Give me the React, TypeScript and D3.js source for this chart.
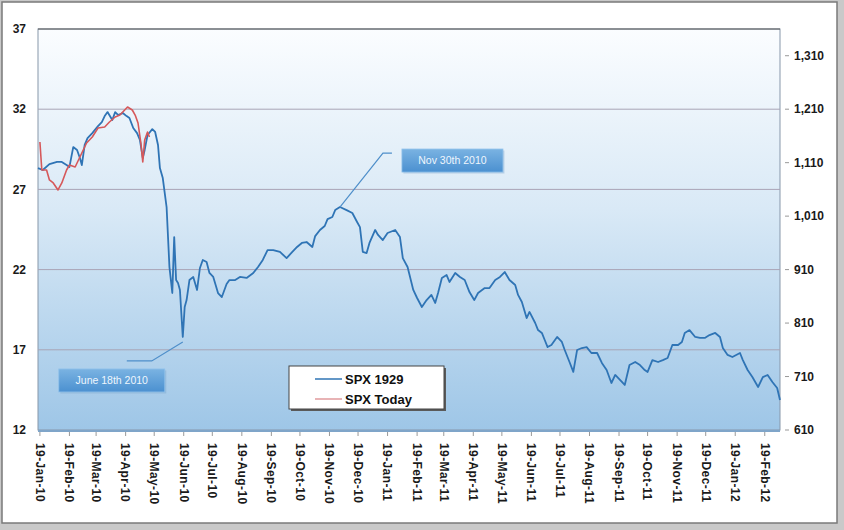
import React, { useRef, useEffect } from "react";
import * as d3 from "d3";

const WIDTH = 844;
const HEIGHT = 530;

// SPX 1929 (left axis), shifted onto 2010-2012 calendar
const spx1929: [string, number][] = [
  ["2010-01-17", 28.33], ["2010-01-22", 28.21], ["2010-01-29", 28.58], ["2010-02-06", 28.71],
  ["2010-02-11", 28.71], ["2010-02-16", 28.52], ["2010-02-19", 28.4], ["2010-02-23", 29.64],
  ["2010-02-27", 29.46], ["2010-03-02", 28.96], ["2010-03-04", 28.52], ["2010-03-07", 29.77],
  ["2010-03-10", 30.2], ["2010-03-15", 30.51], ["2010-03-21", 30.95], ["2010-03-25", 31.2],
  ["2010-03-28", 31.57], ["2010-03-31", 31.82], ["2010-04-05", 31.33], ["2010-04-08", 31.82],
  ["2010-04-11", 31.64], ["2010-04-16", 31.76], ["2010-04-20", 31.57], ["2010-04-23", 31.45],
  ["2010-04-27", 30.83], ["2010-05-01", 30.51], ["2010-05-04", 30.08], ["2010-05-07", 28.96],
  ["2010-05-09", 29.46], ["2010-05-12", 30.39], ["2010-05-17", 30.76], ["2010-05-20", 30.58],
  ["2010-05-23", 29.77], ["2010-05-25", 28.33], ["2010-05-28", 27.71], ["2010-06-01", 25.9],
  ["2010-06-04", 22.16], ["2010-06-07", 20.54], ["2010-06-09", 24.03], ["2010-06-11", 21.35],
  ["2010-06-13", 21.16], ["2010-06-15", 20.73], ["2010-06-18", 17.8], ["2010-06-20", 19.67],
  ["2010-06-22", 20.1], ["2010-06-25", 21.35], ["2010-06-29", 21.54], ["2010-07-03", 20.73],
  ["2010-07-06", 22.1], ["2010-07-09", 22.6], ["2010-07-13", 22.47], ["2010-07-16", 21.79],
  ["2010-07-20", 21.54], ["2010-07-25", 20.54], ["2010-07-29", 20.29], ["2010-08-03", 21.1],
  ["2010-08-06", 21.35], ["2010-08-12", 21.35], ["2010-08-17", 21.54], ["2010-08-24", 21.48],
  ["2010-08-31", 21.79], ["2010-09-05", 22.16], ["2010-09-10", 22.6], ["2010-09-15", 23.22],
  ["2010-09-21", 23.22], ["2010-09-28", 23.1], ["2010-10-05", 22.72], ["2010-10-11", 23.1],
  ["2010-10-16", 23.41], ["2010-10-21", 23.66], ["2010-10-26", 23.72], ["2010-11-01", 23.41],
  ["2010-11-04", 24.09], ["2010-11-09", 24.47], ["2010-11-14", 24.72], ["2010-11-17", 25.15],
  ["2010-11-22", 25.28], ["2010-11-25", 25.71], ["2010-11-30", 25.9], ["2010-12-07", 25.71],
  ["2010-12-13", 25.53], ["2010-12-18", 24.97], ["2010-12-21", 24.65], ["2010-12-24", 23.1],
  ["2010-12-28", 23.03], ["2010-12-31", 23.66], ["2011-01-06", 24.47], ["2011-01-09", 24.16],
  ["2011-01-14", 23.84], ["2011-01-19", 24.28], ["2011-01-27", 24.47], ["2011-02-01", 24.03],
  ["2011-02-04", 22.72], ["2011-02-09", 22.16], ["2011-02-15", 20.73], ["2011-02-19", 20.23],
  ["2011-02-24", 19.67], ["2011-03-01", 20.1], ["2011-03-06", 20.42], ["2011-03-10", 19.92],
  ["2011-03-13", 20.54], ["2011-03-17", 21.48], ["2011-03-22", 21.66], ["2011-03-25", 21.23],
  ["2011-03-31", 21.79], ["2011-04-05", 21.54], ["2011-04-10", 21.35], ["2011-04-15", 20.6],
  ["2011-04-20", 20.1], ["2011-04-24", 20.54], ["2011-05-01", 20.85], ["2011-05-06", 20.85],
  ["2011-05-12", 21.35], ["2011-05-17", 21.54], ["2011-05-22", 21.85], ["2011-05-27", 21.35],
  ["2011-06-02", 21.04], ["2011-06-05", 20.42], ["2011-06-09", 19.98], ["2011-06-14", 18.98],
  ["2011-06-17", 19.36], ["2011-06-23", 18.67], ["2011-06-26", 18.23], ["2011-06-30", 18.05],
  ["2011-07-03", 17.61], ["2011-07-06", 17.17], ["2011-07-10", 17.3], ["2011-07-16", 17.8],
  ["2011-07-21", 17.49], ["2011-07-24", 16.99], ["2011-07-29", 16.24], ["2011-08-02", 15.62],
  ["2011-08-06", 16.99], ["2011-08-11", 17.11], ["2011-08-16", 17.17], ["2011-08-21", 16.8],
  ["2011-08-27", 16.8], ["2011-09-01", 16.18], ["2011-09-06", 15.74], ["2011-09-11", 14.93],
  ["2011-09-15", 15.43], ["2011-09-20", 15.12], ["2011-09-25", 14.81], ["2011-09-30", 16.05],
  ["2011-10-06", 16.24], ["2011-10-11", 16.05], ["2011-10-16", 15.74], ["2011-10-19", 15.62],
  ["2011-10-24", 16.36], ["2011-10-30", 16.24], ["2011-11-04", 16.36], ["2011-11-09", 16.49],
  ["2011-11-14", 17.3], ["2011-11-20", 17.3], ["2011-11-24", 17.49], ["2011-11-27", 18.05],
  ["2011-12-02", 18.23], ["2011-12-08", 17.8], ["2011-12-13", 17.74], ["2011-12-18", 17.74],
  ["2011-12-23", 17.92], ["2011-12-29", 18.05], ["2012-01-03", 17.8], ["2012-01-06", 17.11],
  ["2012-01-11", 16.68], ["2012-01-16", 16.55], ["2012-01-24", 16.8], ["2012-01-27", 16.36],
  ["2012-02-01", 15.74], ["2012-02-06", 15.3], ["2012-02-12", 14.68], ["2012-02-17", 15.3],
  ["2012-02-22", 15.43], ["2012-02-27", 14.99], ["2012-03-03", 14.62], ["2012-03-06", 13.87],
];

// SPX today (right axis)
const spxToday: [string, number][] = [
  ["2010-01-19", 1148.6], ["2010-01-21", 1096.3], ["2010-01-26", 1096.3], ["2010-01-29", 1077.6],
  ["2010-02-02", 1072.0], ["2010-02-07", 1058.9], ["2010-02-11", 1072.0], ["2010-02-16", 1096.3],
  ["2010-02-19", 1105.6], ["2010-02-25", 1101.9], ["2010-03-02", 1120.6], ["2010-03-09", 1146.8],
  ["2010-03-15", 1158.0], ["2010-03-21", 1174.8], ["2010-03-28", 1176.7], ["2010-04-02", 1186.1],
  ["2010-04-08", 1195.4], ["2010-04-13", 1199.1], ["2010-04-18", 1208.5], ["2010-04-21", 1214.1],
  ["2010-04-26", 1208.5], ["2010-04-29", 1199.1], ["2010-05-02", 1184.2], ["2010-05-05", 1146.8],
  ["2010-05-07", 1111.2], ["2010-05-09", 1152.4], ["2010-05-12", 1167.3], ["2010-05-14", 1158.0],
];

const leftTicks = [12, 17, 22, 27, 32, 37];
const rightTicks = [610, 710, 810, 910, 1010, 1110, 1210, 1310];
const monthTicks = [
  "2010-01-19", "2010-02-19", "2010-03-19", "2010-04-19", "2010-05-19", "2010-06-19",
  "2010-07-19", "2010-08-19", "2010-09-19", "2010-10-19", "2010-11-19", "2010-12-19",
  "2011-01-19", "2011-02-19", "2011-03-19", "2011-04-19", "2011-05-19", "2011-06-19",
  "2011-07-19", "2011-08-19", "2011-09-19", "2011-10-19", "2011-11-19", "2011-12-19",
  "2012-01-19", "2012-02-19",
];
const seriesNames = ["SPX 1929", "SPX Today"];
const callouts = [
  { date: "2010-06-18", label: "June 18th 2010" },
  { date: "2010-11-30", label: "Nov 30th 2010" },
];

const FONT = "'Liberation Sans', Arial, sans-serif";

export default function App() {
  const svgRef = useRef<SVGSVGElement>(null);

  useEffect(() => {
    if (!svgRef.current) return;
    const svg = d3.select(svgRef.current);
    svg.selectAll("*").remove();

    const plot = { left: 38, top: 29, right: 780, bottom: 430 };

    const x = d3.scaleUtc()
      .domain([new Date("2010-01-17"), new Date("2012-03-06")])
      .range([plot.left, plot.right]);
    const yL = d3.scaleLinear().domain([12, 37]).range([plot.bottom, plot.top]);
    const yR = d3.scaleLinear().domain([610, 1360]).range([plot.bottom, plot.top]);

    const defs = svg.append("defs");
    const bg = defs.append("linearGradient").attr("id", "plotBg")
      .attr("x1", 0).attr("y1", 0).attr("x2", 0).attr("y2", 1);
    bg.append("stop").attr("offset", "0%").attr("stop-color", "#fbfdff");
    bg.append("stop").attr("offset", "45%").attr("stop-color", "#d9e9f6");
    bg.append("stop").attr("offset", "100%").attr("stop-color", "#9ec6e7");

    const boxGrad = defs.append("linearGradient").attr("id", "boxBg")
      .attr("x1", 0).attr("y1", 0).attr("x2", 0).attr("y2", 1);
    boxGrad.append("stop").attr("offset", "0%").attr("stop-color", "#7ab3e2");
    boxGrad.append("stop").attr("offset", "100%").attr("stop-color", "#4b90d0");

    // Page frame
    svg.append("rect").attr("width", WIDTH).attr("height", HEIGHT).attr("fill", "#c9c9c9");
    svg.append("rect")
      .attr("x", 2).attr("y", 2).attr("width", 835).attr("height", 521)
      .attr("fill", "#fff").attr("stroke", "#7a7a7a").attr("stroke-width", 1.5);

    // Plot background
    svg.append("rect")
      .attr("x", plot.left).attr("y", plot.top)
      .attr("width", plot.right - plot.left).attr("height", plot.bottom - plot.top)
      .attr("fill", "url(#plotBg)")
      .attr("stroke", "#8797aa").attr("stroke-width", 1);
    svg.append("line")
      .attr("x1", plot.left).attr("x2", plot.right)
      .attr("y1", plot.top).attr("y2", plot.top)
      .attr("stroke", "#555").attr("stroke-width", 1.2);
    svg.append("line")
      .attr("x1", plot.left).attr("x2", plot.right)
      .attr("y1", plot.bottom + 1).attr("y2", plot.bottom + 1)
      .attr("stroke", "#7fa5c9").attr("stroke-width", 2);

    // Grid lines
    svg.append("g")
      .selectAll("line")
      .data(leftTicks.filter(t => t !== 12 && t !== 37))
      .join("line")
      .attr("x1", plot.left).attr("x2", plot.right)
      .attr("y1", d => yL(d)).attr("y2", d => yL(d))
      .attr("stroke", "#a9a4b6").attr("stroke-width", 1);

    // Left axis labels
    svg.append("g")
      .selectAll("text")
      .data(leftTicks)
      .join("text")
      .attr("x", 26).attr("y", d => yL(d))
      .attr("dy", "0.35em")
      .attr("text-anchor", "end")
      .attr("font-family", FONT).attr("font-size", 12).attr("font-weight", "bold")
      .attr("fill", "#1a1a1a")
      .text(d => d);

    // Right axis ticks + labels
    const right = svg.append("g");
    right.selectAll("line")
      .data(rightTicks)
      .join("line")
      .attr("x1", plot.right + 5).attr("x2", plot.right + 9)
      .attr("y1", d => yR(d)).attr("y2", d => yR(d))
      .attr("stroke", "#999");
    right.selectAll("text")
      .data(rightTicks)
      .join("text")
      .attr("x", 794).attr("y", d => yR(d))
      .attr("dy", "0.35em")
      .attr("font-family", FONT).attr("font-size", 12).attr("font-weight", "bold")
      .attr("fill", "#1a1a1a")
      .text(d => d3.format(",")(d));

    // X axis ticks + rotated labels
    const fmt = d3.utcFormat("%d-%b-%y");
    const xg = svg.append("g");
    const tickDates = monthTicks.map(d => new Date(d));
    xg.selectAll("line")
      .data(tickDates)
      .join("line")
      .attr("x1", d => x(d)).attr("x2", d => x(d))
      .attr("y1", plot.bottom + 2).attr("y2", plot.bottom + 6)
      .attr("stroke", "#999");
    xg.selectAll("text")
      .data(tickDates)
      .join("text")
      .attr("transform", d => `translate(${x(d)},${plot.bottom + 13}) rotate(90)`)
      .attr("dy", "0.35em")
      .attr("font-family", FONT).attr("font-size", 12).attr("font-weight", "bold")
      .attr("letter-spacing", 0.4)
      .attr("fill", "#1a1a1a")
      .text(d => fmt(d));

    // Lines
    const lineL = d3.line<[string, number]>()
      .x(d => x(new Date(d[0])))
      .y(d => yL(d[1]));
    const lineR = d3.line<[string, number]>()
      .x(d => x(new Date(d[0])))
      .y(d => yR(d[1]));

    svg.append("path")
      .datum(spx1929)
      .attr("fill", "none")
      .attr("stroke", "#2f74b5")
      .attr("stroke-width", 1.8)
      .attr("stroke-linejoin", "round")
      .attr("d", lineL);

    svg.append("path")
      .datum(spxToday)
      .attr("fill", "none")
      .attr("stroke", "#d6585a")
      .attr("stroke-width", 1.6)
      .attr("stroke-linejoin", "round")
      .attr("d", lineR);

    // Callouts
    const valueAt = (date: string) => spx1929.find(d => d[0] === date)![1];
    const drawCallout = (date: string, label: string, dir: "down" | "up") => {
      const ax = x(new Date(date));
      const ay = yL(valueAt(date));
      const g = svg.append("g");
      let pts: [number, number][];
      let bx: number, by: number;
      const bw = dir === "down" ? 106 : 101;
      const bh = 23;
      if (dir === "down") {
        pts = [[ax, ay + 5], [ax - 31, ay + 24], [ax - 56, ay + 24]];
        bx = ax - 124; by = ay + 32;
      } else {
        pts = [[ax, ay], [ax + 43, ay - 54], [ax + 52, ay - 54]];
        bx = ax + 62; by = ay - 58;
      }
      g.append("path")
        .attr("d", d3.line()(pts))
        .attr("fill", "none")
        .attr("stroke", "#4f8fca")
        .attr("stroke-width", 1.2);
      g.append("rect")
        .attr("x", bx + 1.5).attr("y", by + 1.5)
        .attr("width", bw).attr("height", bh)
        .attr("fill", "#6f9cc4").attr("opacity", 0.35);
      g.append("rect")
        .attr("x", bx).attr("y", by)
        .attr("width", bw).attr("height", bh)
        .attr("fill", "url(#boxBg)")
        .attr("stroke", "#8fc0ea").attr("stroke-width", 0.8);
      g.append("text")
        .attr("x", bx + bw / 2).attr("y", by + bh / 2)
        .attr("dy", "0.35em")
        .attr("text-anchor", "middle")
        .attr("font-family", FONT).attr("font-size", 10.5)
        .attr("fill", "#eef6fd")
        .text(label);
    };
    drawCallout(callouts[0].date, callouts[0].label, "down");
    drawCallout(callouts[1].date, callouts[1].label, "up");

    // Legend
    const lg = svg.append("g").attr("transform", "translate(289,366)");
    lg.append("rect")
      .attr("x", 2).attr("y", 2).attr("width", 155).attr("height", 43)
      .attr("fill", "#5a5a5a");
    lg.append("rect")
      .attr("width", 155).attr("height", 43)
      .attr("fill", "#fff").attr("stroke", "#444").attr("stroke-width", 1);
    const colors = ["#2f74b5", "#e09a9c"];
    seriesNames.forEach((name, i) => {
      const row = lg.append("g").attr("transform", `translate(0,${13 + i * 20})`);
      row.append("line")
        .attr("x1", 26).attr("x2", 53)
        .attr("stroke", colors[i]).attr("stroke-width", 1.5);
      row.append("text")
        .attr("x", 56).attr("dy", "0.35em")
        .attr("font-family", FONT).attr("font-size", 13).attr("font-weight", "bold")
        .attr("fill", "#111")
        .text(name);
    });
  }, []);

  return (
    <svg
      ref={svgRef}
      width={WIDTH}
      height={HEIGHT}
      style={{ position: "absolute", left: 0, top: 0, display: "block" }}
    />
  );
}
